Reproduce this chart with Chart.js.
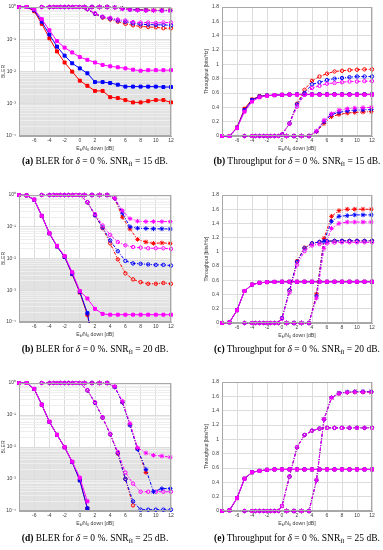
<!DOCTYPE html>
<html><head><meta charset="utf-8">
<script src="https://cdn.jsdelivr.net/npm/chart.js@4.4.1/dist/chart.umd.min.js"></script>
<style>
html,body{margin:0;padding:0;background:#fff;width:383px;height:550px;overflow:hidden;position:relative}
canvas{position:absolute}
.cap{position:absolute;font-family:"Liberation Serif","Times New Roman","DejaVu Serif",serif;font-size:9.5px;color:#000;text-align:center;white-space:nowrap;line-height:11px;width:220px}
.cap sub{font-size:0.72em;vertical-align:-0.3em;line-height:0}
</style></head><body>
<script>
// ---------- axes / ticks ----------
const xTickValues = [-8,-6,-4,-2,0,2,4,6,8,10,12];
const xTickLabels = ['','-6','-4','-2','0','2','4','6','8','10','12'];
const blerTicks = [1,0.1,0.01,0.001,0.0001];
const blerTickLabels = ['10\u2070','10\u207B\u00B9','10\u207B\u00B2','10\u207B\u00B3','10\u207B\u2074'];
const tputTicks = [0,0.2,0.4,0.6,0.8,1,1.2,1.4,1.6,1.8];
const tputTickLabels = ['0','0.2','0.4','0.6','0.8','1','1.2','1.4','1.6','1.8'];

// ---------- x grids of the three MCS groups ----------
const xG1 = [-8,-7,-6,-5,-4,-3,-2,-1,0,1,2,3,4,5,6,7,8,9,10,11,12];
const xG2 = [-5,-4,-3.5,-3,-2.5,-2,-1.5,-1,-0.5,0,1,2,3,4,5,6,7,8,9,10,11,12];
const xG3 = [0.6,1.6,2.6,3.6,4.6,5.6,6.6,7.6,8.7,9.7,10.8,11.9];

// ---------- (a) BLER, SNR_fl = 15 dB ----------
const a_g1_red  = [1,1,0.74,0.30,0.107,0.042,0.019,0.0099,0.0052,0.0036,0.0025,0.0025,0.0016,0.0015,0.0013,0.0011,0.0011,0.0012,0.0013,0.0013,0.0011];
const a_g1_blue = [1,1,0.8,0.35,0.14,0.059,0.031,0.018,0.0125,0.0088,0.0047,0.0047,0.0044,0.0039,0.0034,0.0034,0.0034,0.0034,0.0034,0.0033,0.0033];
const a_g1_mag  = [1,1,0.85,0.42,0.19,0.088,0.055,0.039,0.028,0.023,0.019,0.016,0.0145,0.0135,0.0125,0.0114,0.0106,0.011,0.011,0.011,0.011];
const a_g2_red  = [1,1,1,1,1,1,1,1,1,1,0.85,0.61,0.47,0.41,0.35,0.30,0.27,0.25,0.24,0.235,0.22,0.22];
const a_g2_blue = [1,1,1,1,1,1,1,1,1,1,0.86,0.62,0.49,0.44,0.38,0.35,0.31,0.29,0.285,0.28,0.28,0.27];
const a_g2_mag  = [1,1,1,1,1,1,1,1,1,1,0.87,0.64,0.5,0.46,0.41,0.38,0.34,0.33,0.33,0.32,0.33,0.33];
const a_g3_red  = [1,1,1,1,0.97,0.9,0.85,0.83,0.81,0.8,0.8,0.8];
const a_g3_blue = [1,1,1,1,0.97,0.89,0.83,0.81,0.79,0.78,0.78,0.78];
const a_g3_mag  = [1,1,1,1,0.96,0.87,0.82,0.79,0.77,0.77,0.76,0.76];

// ---------- (b) Throughput, SNR_fl = 15 dB ----------
const b_g1_red  = [0,0,0.12,0.38,0.51,0.555,0.565,0.57,0.575,0.578,0.58,0.58,0.58,0.58,0.58,0.58,0.58,0.58,0.58,0.58,0.58];
const b_g1_blue = [0,0,0.115,0.36,0.5,0.55,0.565,0.57,0.575,0.578,0.58,0.58,0.58,0.58,0.58,0.58,0.58,0.58,0.58,0.58,0.58];
const b_g1_mag  = [0,0,0.11,0.34,0.48,0.54,0.56,0.57,0.575,0.577,0.577,0.577,0.577,0.577,0.577,0.577,0.577,0.577,0.577,0.577,0.577];
const b_g2_red  = [0,0,0,0,0,0,0,0,0,0.02,0.175,0.45,0.645,0.77,0.83,0.87,0.9,0.91,0.92,0.925,0.93,0.93];
const b_g2_blue = [0,0,0,0,0,0,0,0,0,0.02,0.175,0.44,0.6,0.72,0.75,0.78,0.8,0.81,0.82,0.83,0.83,0.83];
const b_g2_mag  = [0,0,0,0,0,0,0,0,0,0.02,0.17,0.41,0.575,0.67,0.7,0.73,0.74,0.75,0.76,0.76,0.765,0.765];
const b_g3_red  = [0,0,0,0,0.06,0.175,0.27,0.3,0.32,0.33,0.335,0.34];
const b_g3_blue = [0,0,0,0,0.065,0.2,0.3,0.33,0.35,0.36,0.365,0.37];
const b_g3_mag  = [0,0,0,0,0.07,0.22,0.31,0.36,0.38,0.39,0.395,0.4];

// ---------- (b, 2nd row) BLER, SNR_fl = 20 dB ----------
const c_g1_red  = [1,0.97,0.71,0.22,0.062,0.024,0.0113,0.0032,0.00085,0.00017,0.00001,null,null,null,null,null,null,null,null,null,null];
const c_g1_blue = [1,0.97,0.71,0.22,0.062,0.024,0.0112,0.0033,0.0009,0.00019,0.00001,null,null,null,null,null,null,null,null,null,null];
const c_g1_mag  = [1,0.97,0.72,0.22,0.063,0.025,0.012,0.0037,0.00095,0.00055,0.00026,0.00018,0.00017,0.00017,0.00017,0.00017,0.00017,0.00017,0.00017,0.00017,0.00017];
const c_g2_red  = [1,1,1,1,1,1,1,1,1,1,0.59,0.23,0.09,0.03,0.0094,0.0034,0.0022,0.0018,0.0016,0.0016,0.0017,0.0016];
const c_g2_blue = [1,1,1,1,1,1,1,1,1,1,0.59,0.23,0.095,0.037,0.017,0.0084,0.007,0.0068,0.0065,0.0063,0.0063,0.006];
const c_g2_mag  = [1,1,1,1,1,1,1,1,1,1,0.6,0.25,0.11,0.055,0.033,0.026,0.023,0.022,0.021,0.021,0.021,0.02];
const c_g3_red  = [1,1,1,1,0.78,0.2,0.085,0.04,0.033,0.03,0.031,0.03];
const c_g3_blue = [1,1,1,1,0.78,0.27,0.1,0.09,0.088,0.086,0.086,0.085];
const c_g3_mag  = [1,1,1,1,0.78,0.32,0.18,0.15,0.145,0.145,0.145,0.145];

// ---------- (c) Throughput, SNR_fl = 20 dB ----------
const d_g1_red  = [0,0.01,0.18,0.45,0.54,0.565,0.575,0.578,0.58,0.58,0.58,0.58,0.58,0.58,0.58,0.58,0.58,0.58,0.58,0.58,0.58];
const d_g1_blue = [0,0.01,0.18,0.45,0.54,0.565,0.575,0.578,0.58,0.58,0.58,0.58,0.58,0.58,0.58,0.58,0.58,0.58,0.58,0.58,0.58];
const d_g1_mag  = [0,0.01,0.18,0.45,0.54,0.565,0.575,0.578,0.58,0.58,0.58,0.58,0.58,0.58,0.58,0.58,0.58,0.58,0.58,0.58,0.58];
const d_g2_red  = [0,0,0,0,0,0,0,0,0,0.07,0.46,0.87,1.06,1.12,1.14,1.15,1.155,1.155,1.155,1.155,1.155,1.155];
const d_g2_blue = [0,0,0,0,0,0,0,0,0,0.07,0.46,0.86,1.05,1.12,1.14,1.15,1.155,1.155,1.155,1.155,1.155,1.155];
const d_g2_mag  = [0,0,0,0,0,0,0,0,0,0.06,0.43,0.82,1.01,1.09,1.11,1.12,1.13,1.135,1.135,1.135,1.135,1.135];
const d_g3_red  = [0,0,0,0,0.41,1.19,1.5,1.58,1.6,1.6,1.6,1.6];
const d_g3_blue = [0,0,0,0,0.38,1.15,1.43,1.5,1.51,1.52,1.52,1.52];
const d_g3_mag  = [0,0,0,0,0.35,1.05,1.33,1.4,1.42,1.42,1.42,1.42];

// ---------- (d) BLER, SNR_fl = 25 dB ----------
const e_g1_red  = [1,1,0.65,0.21,0.061,0.024,0.0098,0.0034,0.00092,0.00012,null,null,null,null,null,null,null,null,null,null,null];
const e_g1_blue = [1,1,0.65,0.21,0.061,0.024,0.0098,0.0034,0.0009,0.00012,null,null,null,null,null,null,null,null,null,null,null];
const e_g1_mag  = [1,1,0.66,0.21,0.062,0.024,0.0099,0.0035,0.0011,0.0002,null,null,null,null,null,null,null,null,null,null,null];
const e_g2_red  = [1,1,1,1,1,1,1,1,1,1,0.59,0.24,0.083,0.025,0.0062,0.001,0.00015,null,null,null,null,null];
const e_g2_blue = [1,1,1,1,1,1,1,1,1,1,0.59,0.24,0.083,0.025,0.0065,0.001,0.0002,0.00011,0.00011,0.00011,0.00011,0.00011];
const e_g2_mag  = [1,1,1,1,1,1,1,1,1,1,0.6,0.25,0.085,0.026,0.007,0.0016,0.00072,0.0004,0.0004,0.0004,0.0004,0.0004];
const e_g3_red  = [1,1,1,1,0.75,0.25,0.05,0.009,0.0016,null,null,null];
const e_g3_blue = [1,1,1,1,0.75,0.25,0.048,0.0085,0.002,0.0004,0.0005,0.0005];
const e_g3_mag  = [1,1,1,1,0.78,0.27,0.055,0.0095,0.0065,0.0055,0.0052,0.0048];

// ---------- (e) Throughput, SNR_fl = 25 dB ----------
const f_g1_red  = [0,0.01,0.18,0.45,0.54,0.56,0.575,0.58,0.58,0.58,0.58,0.58,0.58,0.58,0.58,0.58,0.58,0.58,0.58,0.58,0.58];
const f_g1_blue = [0,0.01,0.18,0.45,0.54,0.56,0.575,0.58,0.58,0.58,0.58,0.58,0.58,0.58,0.58,0.58,0.58,0.58,0.58,0.58,0.58];
const f_g1_mag  = [0,0.01,0.18,0.45,0.54,0.56,0.575,0.58,0.58,0.58,0.58,0.58,0.58,0.58,0.58,0.58,0.58,0.58,0.58,0.58,0.58];
const f_g2_red  = [0,0,0,0,0,0,0,0,0,0.07,0.48,0.89,1.06,1.12,1.15,1.16,1.16,1.16,1.16,1.16,1.16,1.16];
const f_g2_blue = [0,0,0,0,0,0,0,0,0,0.07,0.48,0.89,1.06,1.12,1.15,1.16,1.16,1.16,1.16,1.16,1.16,1.16];
const f_g2_mag  = [0,0,0,0,0,0,0,0,0,0.07,0.48,0.89,1.06,1.12,1.15,1.16,1.16,1.16,1.16,1.16,1.16,1.16];
const f_g3_red  = [0,0,0,0,0.43,1.28,1.58,1.64,1.655,1.66,1.66,1.66];
const f_g3_blue = [0,0,0,0,0.43,1.28,1.58,1.645,1.66,1.665,1.665,1.665];
const f_g3_mag  = [0,0,0,0,0.43,1.28,1.58,1.64,1.655,1.66,1.66,1.66];

// ---------- captions ----------
const captions = [
  '<b>(a)</b> BLER for <i>\u03B4</i> = 0 %. SNR<sub>fl</sub> = 15 dB.',
  '<b>(b)</b> Throughput for <i>\u03B4</i> = 0 %. SNR<sub>fl</sub> = 15 dB.',
  '<b>(b)</b> BLER for <i>\u03B4</i> = 0 %. SNR<sub>fl</sub> = 20 dB.',
  '<b>(c)</b> Throughput for <i>\u03B4</i> = 0 %. SNR<sub>fl</sub> = 20 dB.',
  '<b>(d)</b> BLER for <i>\u03B4</i> = 0 %. SNR<sub>fl</sub> = 25 dB.',
  '<b>(e)</b> Throughput for <i>\u03B4</i> = 0 %. SNR<sub>fl</sub> = 25 dB.'
];

// ---------- styling ----------
const FAM = '"Liberation Sans", Arial, Helvetica, sans-serif';
const RED = '#ff0000', BLUE = '#0000ff', MAG = '#ff00ff';
const GRID = '#dcdcdc', GRID_MINOR = '#eeeeee', FRAME = '#a8a8a8', TXT = '#3a3a3a';
const GROUP_STYLE = [
  {dash: [], style: 'rect', r: 2.1, fill: true, pbw: 1},
  {dash: [3,1.5,1,1.5], style: 'circle', r: 1.7, fill: false, pbw: 1},
  {dash: [3,1.5,1,1.5], style: 'star', r: 2.3, fill: true, pbw: 1}
];
const PAD_T = 5, PAD_R = 6, X_H = 22;

function isDecade(v){ const l = Math.log10(v); return Math.abs(l - Math.round(l)) < 1e-6; }
function blerLabel(v){
  for (let i = 0; i < blerTicks.length; i++) if (Math.abs(v - blerTicks[i]) / blerTicks[i] < 1e-6) return blerTickLabels[i];
  return '';
}
const blerGridValues = [];
for (let e = -4; e <= 0; e++) for (let m = 1; m <= 9; m++) { if (e === 0 && m > 1) break; blerGridValues.push(+(m * Math.pow(10, e)).toPrecision(6)); }

const shadePlugin = {
  id: 'shade',
  beforeDraw(chart, args, opts) {
    if (!opts || !opts.below) return;
    const {ctx, chartArea, scales} = chart;
    const yp = scales.y.getPixelForValue(opts.below);
    ctx.save(); ctx.fillStyle = '#e2e2e2';
    ctx.fillRect(chartArea.left, yp, chartArea.right - chartArea.left, chartArea.bottom - yp);
    ctx.restore();
  }
};
const framePlugin = {
  id: 'frame',
  afterDraw(chart) {
    const {ctx, chartArea: a} = chart;
    ctx.save(); ctx.strokeStyle = FRAME; ctx.lineWidth = 1;
    ctx.strokeRect(Math.round(a.left) + 0.5, Math.round(a.top) + 0.5, Math.round(a.right - a.left) - 1, Math.round(a.bottom - a.top) - 1);
    ctx.restore();
  }
};
const xTitlePlugin = {
  id: 'xTitleSub',
  afterDraw(chart, args, opts) {
    const {ctx, chartArea} = chart;
    const parts = [['E',0],['b',1],['/N',0],['0',1],[' down [dB]',0]];
    const fs = 5.2, ss = 3.8;
    ctx.save(); ctx.fillStyle = TXT; ctx.textBaseline = 'alphabetic'; ctx.textAlign = 'left';
    let total = 0;
    parts.forEach(([t, s]) => { ctx.font = (s ? ss : fs) + 'px ' + FAM; total += ctx.measureText(t).width; });
    let x = (chartArea.left + chartArea.right) / 2 - total / 2;
    const y = chartArea.bottom + opts.offset;
    parts.forEach(([t, s]) => { ctx.font = (s ? ss : fs) + 'px ' + FAM; ctx.fillText(t, x, y + (s ? 1.3 : 0)); x += ctx.measureText(t).width; });
    ctx.restore();
  }
};

function ds(xs, ys, color, g, clip) {
  const st = GROUP_STYLE[g];
  return {
    data: xs.map((x, i) => ({x: x, y: ys[i]})),
    borderColor: color, backgroundColor: color,
    pointBorderColor: color, pointBackgroundColor: st.fill ? color : 'rgba(255,255,255,0)',
    borderWidth: 1, borderDash: st.dash, pointStyle: st.style, pointRadius: st.r,
    pointBorderWidth: st.pbw, pointHoverRadius: st.r, tension: 0, fill: false,
    spanGaps: false, clip: clip
  };
}

const panels = [
  {L:19, T:6, R:171, B:136, kind:'bler', xs:[xG1,xG2,xG3],
   sets:[[a_g1_red,a_g1_blue,a_g1_mag],[a_g2_red,a_g2_blue,a_g2_mag],[a_g3_red,a_g3_blue,a_g3_mag]], cap:0, cy:162},
  {L:222, T:6, R:372, B:136, kind:'tput', xs:[xG1,xG2,xG3],
   sets:[[b_g1_red,b_g1_blue,b_g1_mag],[b_g2_red,b_g2_blue,b_g2_mag],[b_g3_red,b_g3_blue,b_g3_mag]], cap:1, cy:162},
  {L:19, T:194, R:171, B:322, kind:'bler', xs:[xG1,xG2,xG3],
   sets:[[c_g1_red,c_g1_blue,c_g1_mag],[c_g2_red,c_g2_blue,c_g2_mag],[c_g3_red,c_g3_blue,c_g3_mag]], cap:2, cy:350},
  {L:222, T:194, R:372, B:323, kind:'tput', xs:[xG1,xG2,xG3],
   sets:[[d_g1_red,d_g1_blue,d_g1_mag],[d_g2_red,d_g2_blue,d_g2_mag],[d_g3_red,d_g3_blue,d_g3_mag]], cap:3, cy:350},
  {L:19, T:382, R:171, B:511, kind:'bler', xs:[xG1,xG2,xG3],
   sets:[[e_g1_red,e_g1_blue,e_g1_mag],[e_g2_red,e_g2_blue,e_g2_mag],[e_g3_red,e_g3_blue,e_g3_mag]], cap:4, cy:539},
  {L:222, T:381, R:372, B:511, kind:'tput', xs:[xG1,xG2,xG3],
   sets:[[f_g1_red,f_g1_blue,f_g1_mag],[f_g2_red,f_g2_blue,f_g2_mag],[f_g3_red,f_g3_blue,f_g3_mag]], cap:5, cy:539}
];

panels.forEach((p, idx) => {
  const bler = p.kind === 'bler';
  const yW = bler ? 19 : 22;
  const canvas = document.createElement('canvas');
  const w = (p.R - p.L) + yW + PAD_R, h = (p.B - p.T) + PAD_T + X_H;
  canvas.width = w; canvas.height = h;
  canvas.style.left = (p.L - yW) + 'px'; canvas.style.top = (p.T - PAD_T) + 'px';
  canvas.style.width = w + 'px'; canvas.style.height = h + 'px';
  document.body.appendChild(canvas);

  const clip = bler ? {left: 4, top: 4, right: 4, bottom: 1} : false;
  const colors = [RED, BLUE, MAG];
  const list = [];
  p.sets.forEach((grp, g) => grp.forEach((ys, c) => list.push(ds(p.xs[g], ys, colors[c], g, clip))));
  list.reverse();

  const tickFont = {size: 5, family: FAM};
  const yScale = bler ? {
    type: 'logarithmic', min: 1e-4, max: 1,
    afterBuildTicks: s => { s.ticks = blerGridValues.map(v => ({value: v})); },
    afterFit: s => { s.width = yW; },
    ticks: {autoSkip: false, padding: 3, font: tickFont, color: TXT, callback: v => blerLabel(v)},
    grid: {drawTicks: false, color: c => isDecade(c.tick.value) ? GRID : GRID_MINOR, lineWidth: 1},
    border: {display: true, color: FRAME},
    title: {display: true, text: 'BLER', font: {size: 5, family: FAM}, color: TXT, padding: {top: 1, bottom: 0}}
  } : {
    type: 'linear', min: 0, max: 1.8,
    afterBuildTicks: s => { s.ticks = tputTicks.map(v => ({value: v})); },
    afterFit: s => { s.width = yW; },
    ticks: {autoSkip: false, padding: 3, font: tickFont, color: TXT, callback: (v, i) => tputTickLabels[i]},
    grid: {drawTicks: false, color: GRID, lineWidth: 1},
    border: {display: true, color: FRAME},
    title: {display: true, text: 'Throughput [bits/Hz]', font: {size: 5, family: FAM}, color: TXT, padding: {top: 4, bottom: 0}}
  };

  new Chart(canvas, {
    type: 'line',
    data: {datasets: list},
    plugins: [shadePlugin, framePlugin, xTitlePlugin],
    options: {
      responsive: false, animation: false, devicePixelRatio: 1,
      layout: {padding: {top: PAD_T, right: PAD_R, left: 0, bottom: 0}},
      plugins: {
        legend: {display: false}, tooltip: {enabled: false},
        shade: {below: bler ? 0.01 : null},
        xTitleSub: {offset: 14}
      },
      scales: {
        x: {
          type: 'linear', min: -8, max: 12,
          afterBuildTicks: s => { s.ticks = xTickValues.map(v => ({value: v})); },
          afterFit: s => { s.height = X_H; },
          ticks: {autoSkip: false, maxRotation: 0, padding: 2, font: tickFont, color: TXT, callback: (v, i) => xTickLabels[i]},
          grid: {drawTicks: false, color: GRID, lineWidth: 1},
          border: {display: true, color: FRAME}
        },
        y: yScale
      }
    }
  });

  const cap = document.createElement('div');
  cap.className = 'cap';
  cap.innerHTML = captions[p.cap];
  cap.style.left = ((p.L + p.R) / 2 - 110) + 'px';
  cap.style.top = (p.cy - 6) + 'px';
  document.body.appendChild(cap);
});
</script>
</body></html>
